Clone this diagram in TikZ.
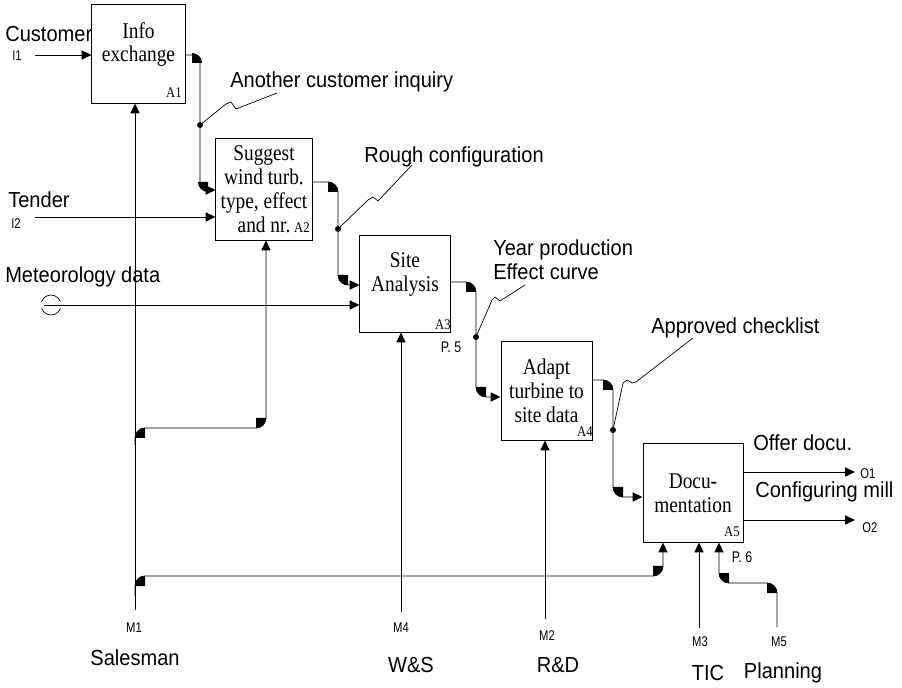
\documentclass[tikz,border=0pt]{standalone}
\usepackage{fontspec}
\usetikzlibrary{arrows.meta}
\newfontfamily\boxfont[FakeStretch=0.86]{Liberation Serif}
\newfontfamily\lblfont[FakeStretch=0.92]{Liberation Sans}
\newfontfamily\portfont[FakeStretch=0.8]{Liberation Sans}
\tikzset{
  actbox/.style={draw, line width=0.7pt, inner sep=0pt, align=center,
    font=\boxfont\fontsize{16}{17}\selectfont},
  boxtag/.style={inner sep=0pt, font=\boxfont\fontsize{10.5}{11}\selectfont},
  arrowlabel/.style={inner sep=0pt, anchor=west, align=left,
    font=\lblfont\fontsize{15.5}{17}\selectfont},
  rolelabel/.style={inner sep=0pt, font=\lblfont\fontsize{15.5}{17}\selectfont},
  portlabel/.style={inner sep=0pt, font=\portfont\fontsize{10}{10}\selectfont},
  pagelabel/.style={inner sep=0pt, font=\portfont\fontsize{11}{12}\selectfont},
  flow/.style={line width=0.6pt, -{Triangle[length=7pt,width=6.5pt]},
    rounded corners=0.25cm},
  squiggle/.style={line width=0.5pt}
}
% filled corner of a bent connector
\newcommand\fillet[3]{\fill (#1) -- ++(#2:10) arc[start angle=#2, end angle=#3, radius=10] -- cycle;}

\begin{document}
\begin{tikzpicture}[x=0.025cm, y=-0.025cm]
\useasboundingbox (0,0) rectangle (902,688);

% activities
\node[actbox, minimum width=2.325cm, minimum height=2.45cm] (a1) at (138.5,54) {Info\\exchange\\~};
\node[actbox, minimum width=2.4cm, minimum height=2.525cm] (a2) at (264,189.5) {Suggest\\wind turb.\\type, effect\\and nr.\quad};
\node[actbox, minimum width=2.25cm, minimum height=2.4cm] (a3) at (405,284) {Site\\Analysis\\~};
\node[actbox, minimum width=2.275cm, minimum height=2.45cm] (a4) at (546.5,391) {Adapt\\turbine to\\site data};
\node[actbox, minimum width=2.5cm, minimum height=2.45cm] (a5) at (693,493) {Docu-\\mentation};

\node[boxtag] (a1tag) at (174,93) {A1};
\node[boxtag] (a2tag) at (302,228) {A2};
\node[boxtag] (a3tag) at (443,325) {A3};
\node[boxtag] (a4tag) at (585,432) {A4};
\node[boxtag] (a5tag) at (732,532) {A5};
\node[pagelabel] (p5) at (451,347) {P. 5};
\node[pagelabel] (p6) at (742,557) {P. 6};

% inputs
\coordinate (i1) at (35,55);
\coordinate (i2) at (35,217);
\coordinate (i3) at (44,305);
\node[arrowlabel] (lcust) at (5,34) {Customer};
\node[portlabel] (li1) at (17,56) {I1};
\node[arrowlabel] (ltender) at (8,200) {Tender};
\node[portlabel] (li2) at (16,224) {I2};
\node[arrowlabel] (lmet) at (5,277) {Meteorology data};
\draw[flow] (i1) -- (i1 -| a1.west);
\draw[flow] (i2) -- (i2 -| a2.west);
\draw[flow] (i3) -- (i3 -| a3.west);
\draw[line width=0.5pt] (51,305) ++(200:10) arc[start angle=200, end angle=340, radius=10];
\draw[line width=0.5pt] (51,305) ++(20:10) arc[start angle=20, end angle=160, radius=10];

% flows between activities
\draw[flow, rounded corners=0.2cm] (a1.east |- 0,55) -| (200,190) -- (a2.west |- 0,190);
\draw[flow] (a2.east |- 0,182) -| (338,285) -- (a3.west |- 0,285);
\draw[flow] (a3.east |- 0,282) -| (476,397) -- (a4.west |- 0,397);
\draw[flow] (a4.east |- 0,380) -| (613,497) -- (a5.west |- 0,497);
\fillet{192,63}{270}{360}
\fillet{208,182}{90}{180}
\fillet{328,192}{270}{360}
\fillet{348,275}{90}{180}
\fillet{466,292}{270}{360}
\fillet{486,387}{90}{180}
\fillet{603,390}{270}{360}
\fillet{623,487}{90}{180}

% tunnelled outputs
\coordinate (d1) at (200,125);
\coordinate (d2) at (338,229);
\coordinate (d3) at (476,337);
\coordinate (d4) at (613,430);
\node[arrowlabel] (linq) at (230,82) {Another customer inquiry};
\node[arrowlabel] (lrough) at (364,157) {Rough configuration};
\node[arrowlabel] (lyear) at (493,260) {Year production\\Effect curve};
\node[arrowlabel] (lappr) at (651,328) {Approved checklist};
\draw[squiggle] (d1) -- (226,104) -- (231,102) -- (236,109) -- (277,93);
\draw[squiggle] (d2) -- (368,200) -- (373,197) -- (378,201) -- (412,165);
\draw[squiggle] (d3) -- (492,300) -- (495,297) -- (500,301) -- (525,285);
\draw[squiggle] (d4) -- (623,383) -- (627,380) -- (632,383) -- (636,382) -- (693,338);
\foreach \d in {d1,d2,d3,d4}
  \fill (\d) circle[radius=3];

% outputs
\coordinate (o1) at (855,472);
\coordinate (o2) at (855,520);
\node[arrowlabel] (loffer) at (753,443) {Offer docu.};
\node[arrowlabel] (lconf) at (755,492) {Configuring mill};
\node[portlabel, anchor=west] (lo1) at (860,474) {O1};
\node[portlabel, anchor=west] (lo2) at (862,528) {O2};
\draw[flow] (a5.east |- o1) -- (o1);
\draw[flow] (a5.east |- o2) -- (o2);

% mechanisms
\coordinate (m1) at (135,610);
\coordinate (m4) at (401,612);
\coordinate (m2) at (545,619);
\coordinate (m3) at (699,628);
\coordinate (m5) at (777,627);
\node[portlabel] (lm1) at (134,628) {M1};
\node[portlabel] (lm4) at (401,628) {M4};
\node[portlabel] (lm2) at (547,636) {M2};
\node[portlabel] (lm3) at (700,642) {M3};
\node[portlabel] (lm5) at (779,642) {M5};
\node[rolelabel] (lsales) at (135,658) {Salesman};
\node[rolelabel] (lws) at (411,665) {W\&S};
\node[rolelabel] (lrd) at (558,665) {R\&D};
\node[rolelabel] (ltic) at (708,673) {TIC};
\node[rolelabel] (lplan) at (783,673) {Planning};
\draw[flow] (m1) -- (m1 |- a1.south);
\draw[flow] (m1 |- 0,445) |- (266,428) -- (a2.south -| 266,0);
\draw[flow] (m1 |- 0,596) |- (663,576) -- (a5.south -| 663,0);
\draw[flow] (m4) -- (m4 |- a3.south);
\draw[flow] (m2) -- (m2 |- a4.south);
\draw[flow] (m3) -- (m3 |- a5.south);
\draw[flow] (m5) |- (719,583) -- (a5.south -| 719,0);
\fillet{145,438}{180}{270}
\fillet{256,418}{0}{90}
\fillet{145,586}{180}{270}
\fillet{653,566}{0}{90}
\fillet{767,593}{270}{360}
\fillet{729,573}{90}{180}
\end{tikzpicture}
\end{document}
